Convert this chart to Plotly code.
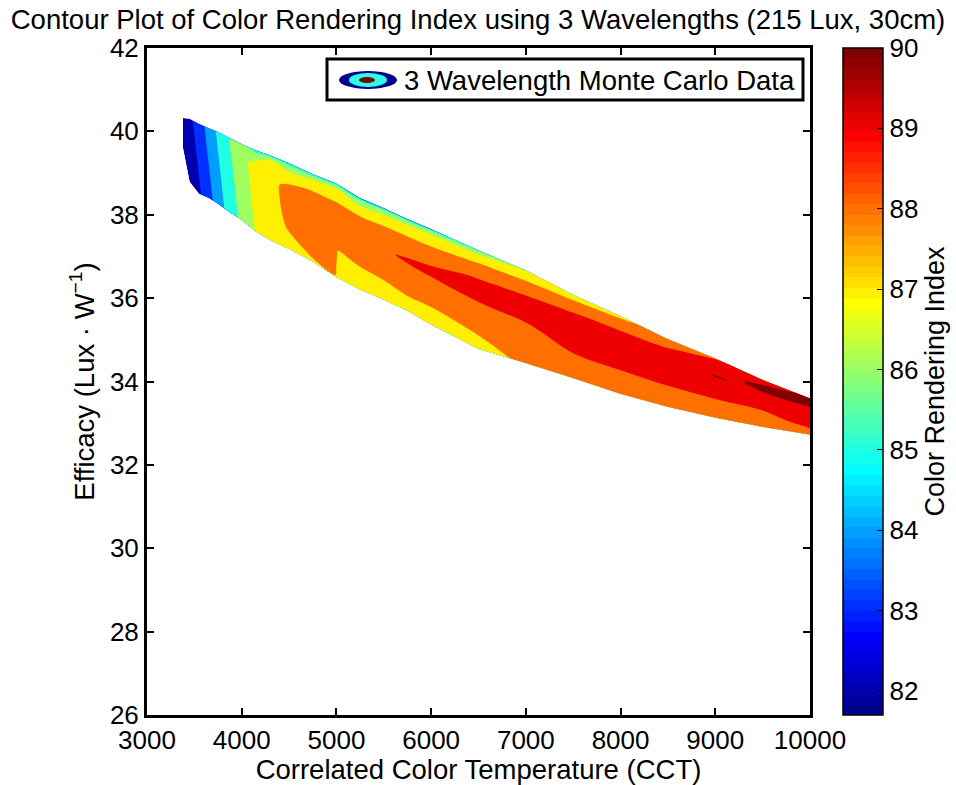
import plotly.graph_objects as go

# ---------------- data ----------------
# CCT columns across the Monte Carlo band
cct = [3380, 3450, 3550, 3650, 3750, 3850, 4000, 4150, 4300, 4500, 4750, 4990, 5010,
       5250, 5500, 5750, 6000, 6500, 7000, 7500, 8000, 8500, 9000, 9500, 10000]
# upper and lower edge of the data band (efficacy, Lux/W) at each CCT column
eff_top = [40.32, 40.30, 40.18, 40.08, 39.99, 39.87, 39.70, 39.55, 39.43, 39.24, 38.98, 38.76, 38.74,
           38.40, 38.16, 37.90, 37.66, 37.15, 36.67, 36.08, 35.57, 35.02, 34.56, 34.04, 33.60]
eff_bottom = [39.60, 38.79, 38.50, 38.40, 38.26, 38.09, 37.87, 37.59, 37.39, 37.18, 36.87, 36.51, 36.48,
              36.20, 35.96, 35.69, 35.36, 34.78, 34.44, 34.08, 33.70, 33.39, 33.13, 32.91, 32.72]
# position across the band (0 = lower edge, 1 = upper edge)
band_frac = [0, 0.1, 0.25, 0.4, 0.55, 0.7, 0.8, 0.88, 0.94, 0.975, 1.0]
# CRI values per CCT column, from the lower edge to the upper edge
cri_by_column = [
    [82.4, 82.4, 82.45, 82.5, 82.5, 82.55, 82.6, 82.6, 82.6, 82.6, 82.6],
    [82.25, 82.3, 82.37, 82.44, 82.51, 82.59, 82.63, 82.67, 82.7, 82.72, 82.73],
    [82.83, 82.9, 83.0, 83.1, 83.2, 83.3, 83.37, 83.42, 83.46, 83.48, 83.5],
    [83.62, 83.7, 83.81, 83.92, 84.03, 84.15, 84.22, 84.28, 84.33, 84.35, 84.37],
    [84.48, 84.55, 84.66, 84.77, 84.88, 84.98, 85.06, 85.11, 85.15, 85.18, 85.2],
    [85.27, 85.34, 85.44, 85.53, 85.63, 85.73, 85.8, 85.85, 85.89, 85.91, 85.93],
    [86.26, 86.31, 86.39, 86.47, 86.55, 86.63, 86.68, 86.73, 86.76, 86.6, 85.8],
    [87.07, 87.12, 87.2, 87.27, 87.33, 87.38, 87.35, 86.95, 86.4, 85.8, 84.8],
    [87.3, 87.4, 87.55, 87.7, 87.8, 87.9, 87.85, 87.5, 87.0, 86.2, 84.8],
    [87.5, 87.8, 88.1, 88.2, 88.2, 88.1, 87.9, 87.2, 86.5, 85.9, 84.8],
    [87.9, 88.15, 88.3, 88.35, 88.35, 88.2, 88.02, 87.6, 86.9, 86.0, 84.8],
    [87.95, 88.2, 88.35, 88.4, 88.4, 88.3, 88.0, 87.6, 87.1, 86.2, 84.8],
    [87.5, 87.7, 87.93, 88.2, 88.4, 88.3, 88.0, 87.6, 87.1, 86.2, 84.8],
    [87.4, 87.6, 88.0, 88.3, 88.45, 88.35, 88.0, 87.4, 86.6, 86.0, 84.5],
    [87.4, 87.7, 88.1, 88.5, 88.9, 88.5, 88.03, 87.5, 86.8, 86.0, 84.5],
    [87.5, 87.85, 88.2, 88.6, 89.1, 88.5, 88.05, 87.6, 86.9, 86.1, 84.5],
    [87.5, 87.8, 88.15, 88.7, 89.15, 88.8, 88.1, 87.6, 87.0, 86.2, 84.5],
    [87.6, 87.9, 88.3, 88.7, 89.3, 89.05, 88.5, 87.9, 87.3, 86.7, 85.5],
    [88.2, 88.4, 88.6, 88.9, 89.3, 89.15, 88.6, 88.05, 87.6, 87.3, 86.8],
    [88.3, 88.6, 88.9, 89.2, 89.4, 89.25, 88.95, 88.4, 87.95, 87.6, 87.3],
    [88.3, 88.6, 88.85, 89.25, 89.4, 89.3, 89.05, 88.6, 88.2, 87.95, 87.8],
    [88.3, 88.6, 88.9, 89.15, 89.4, 89.45, 89.2, 88.95, 88.6, 88.4, 88.3],
    [88.4, 88.7, 88.85, 89.2, 89.6, 90.05, 89.7, 89.4, 89.2, 89.05, 88.9],
    [88.5, 88.7, 88.9, 89.05, 89.5, 89.85, 90.2, 90.05, 89.8, 89.5, 89.3],
    [88.6, 88.85, 89.1, 89.3, 89.55, 89.85, 90.1, 90.25, 90.3, 90.3, 90.3],
]
cri_levels = [82, 83, 84, 85, 86, 87, 88, 89, 90]
cbar_ticks = [82, 83, 84, 85, 86, 87, 88, 89, 90]
cri_min, cri_max = 81.7, 90.0
x_ticks = [3000, 4000, 5000, 6000, 7000, 8000, 9000, 10000]
x_tick_text = ["3000", "4000", "5000", "6000", "7000", "8000", "9000", "10000"]
y_ticks = [26, 28, 30, 32, 34, 36, 38, 40, 42]

FONT = "Liberation Sans, Arial, Helvetica, sans-serif"


# ---------------- MATLAB jet(64) colormap ----------------
def jet64():
    n, m = 64, 16
    u = [i / m for i in range(1, m + 1)] + [1.0] * (m - 1) + [i / m for i in range(m, 0, -1)]
    r = [0.0] * n
    g = [0.0] * n
    b = [0.0] * n
    for k, val in enumerate(u):
        gi = 8 + k          # 0-based row index for green
        ri = gi + m
        bi = gi - m
        if 0 <= gi < n:
            g[gi] = val
        if 0 <= ri < n:
            r[ri] = val
        if 0 <= bi < n:
            b[bi] = val
    return [(round(255 * r[i]), round(255 * g[i]), round(255 * b[i])) for i in range(n)]


JET = jet64()


def rgb(c):
    return "rgb(%d,%d,%d)" % c


def level_color(v):
    idx = int((v - cri_min) / (cri_max - cri_min) * 64)
    idx = max(0, min(63, idx))
    return rgb(JET[idx])


jet_scale = []
for i, c in enumerate(JET):
    jet_scale.append([i / 64, rgb(c)])
    jet_scale.append([(i + 1) / 64, rgb(c)])

# ---------------- carpet grid over the band ----------------
X = [[c for c in cct] for f in band_frac]
Y = [[lo + f * (hi - lo) for lo, hi in zip(eff_bottom, eff_top)] for f in band_frac]
Z = [[col[j] for col in cri_by_column] for j in range(len(band_frac))]

hidden_axis = dict(showgrid=False, showline=False, showticklabels="none",
                   startline=False, endline=False, minorgridcount=0,
                   gridcolor="rgba(0,0,0,0)", linecolor="rgba(0,0,0,0)", smoothing=0)

fig = go.Figure()
fig.add_trace(go.Carpet(a=cct, b=band_frac, x=X, y=Y, carpet="band",
                        aaxis=hidden_axis, baxis=hidden_axis))

# filled contour bands: each layer shades the region where CRI >= level
# (plotly shades the region that violates the constraint "< level")
for lev in cri_levels:
    fig.add_trace(go.Contourcarpet(
        carpet="band", a=cct, b=band_frac, z=Z,
        contours=dict(type="constraint", operation="<", value=lev),
        fillcolor=level_color(lev), line=dict(width=0, color=level_color(lev)),
        showlegend=False))

# colour bar (continuous jet, 81.7 .. 90)
fig.add_trace(go.Scatter(
    x=[None], y=[None], mode="markers", showlegend=False, hoverinfo="skip",
    marker=dict(color=[85], colorscale=jet_scale, cmin=cri_min, cmax=cri_max, showscale=True,
                colorbar=dict(x=(843 - 147) / 663, xanchor="left", y=0.5, yanchor="middle",
                              len=1.0, lenmode="fraction", thickness=40, thicknessmode="pixels",
                              outlinewidth=1.5, outlinecolor="black", xpad=0, ypad=0,
                              tickvals=cbar_ticks, ticks="inside", ticklen=6, tickwidth=1,
                              tickcolor="black", tickfont=dict(size=26, color="black", family=FONT),
                              title=dict(text="Color Rendering Index", side="right",
                                         font=dict(size=27, color="black", family=FONT))))))

# ---------------- legend box (drawn) ----------------
L, W, T, H = 147, 663, 48, 667


def px_x(p):
    return (p - L) / W


def px_y(p):
    return (T + H - p) / H


shapes = [
    dict(type="rect", xref="paper", yref="paper", x0=px_x(327), x1=px_x(803), y0=px_y(100), y1=px_y(59),
         line=dict(color="black", width=3), fillcolor="white", layer="above"),
    dict(type="circle", xref="paper", yref="paper", x0=px_x(339), x1=px_x(397), y0=px_y(89), y1=px_y(71),
         line=dict(width=0), fillcolor="rgb(0,0,143)", layer="above"),
    dict(type="circle", xref="paper", yref="paper", x0=px_x(349), x1=px_x(387), y0=px_y(87), y1=px_y(73),
         line=dict(width=0), fillcolor="rgb(40,255,230)", layer="above"),
    dict(type="circle", xref="paper", yref="paper", x0=px_x(359), x1=px_x(375), y0=px_y(83), y1=px_y(77),
         line=dict(width=0), fillcolor="rgb(128,0,0)", layer="above"),
]
annotations = [
    dict(text="3 Wavelength Monte Carlo Data", xref="paper", yref="paper", x=px_x(402), y=px_y(80),
         xanchor="left", yanchor="middle", showarrow=False,
         font=dict(size=27.5, color="black", family=FONT)),
]

axis_common = dict(ticks="inside", ticklen=7, tickwidth=2, tickcolor="black",
                   showline=True, linewidth=3, linecolor="black", mirror="ticks",
                   showgrid=False, zeroline=False,
                   tickfont=dict(size=26, color="black", family=FONT))

fig.update_layout(
    width=956, height=785,
    margin=dict(l=147, r=146, t=48, b=70, pad=0, autoexpand=False),
    paper_bgcolor="white", plot_bgcolor="white",
    font=dict(family=FONT, color="black", size=26),
    title=dict(text="Contour Plot of Color Rendering Index using 3 Wavelengths (215 Lux, 30cm)",
               x=0.5, xanchor="center", xref="container", y=1 - 19 / 785, yanchor="middle",
               yref="container", font=dict(size=27.5, color="black", family=FONT)),
    xaxis=dict(range=[3000, 10000], tickvals=x_ticks, ticktext=x_tick_text,
               title=dict(text="Correlated Color Temperature (CCT)", font=dict(size=27.5), standoff=4),
               **axis_common),
    yaxis=dict(range=[26, 42], tickvals=y_ticks,
               title=dict(text="Efficacy (Lux · W<sup>−1</sup>)", font=dict(size=27.5), standoff=8),
               **axis_common),
    shapes=shapes, annotations=annotations, showlegend=False,
)

fig.write_html("out.html")
